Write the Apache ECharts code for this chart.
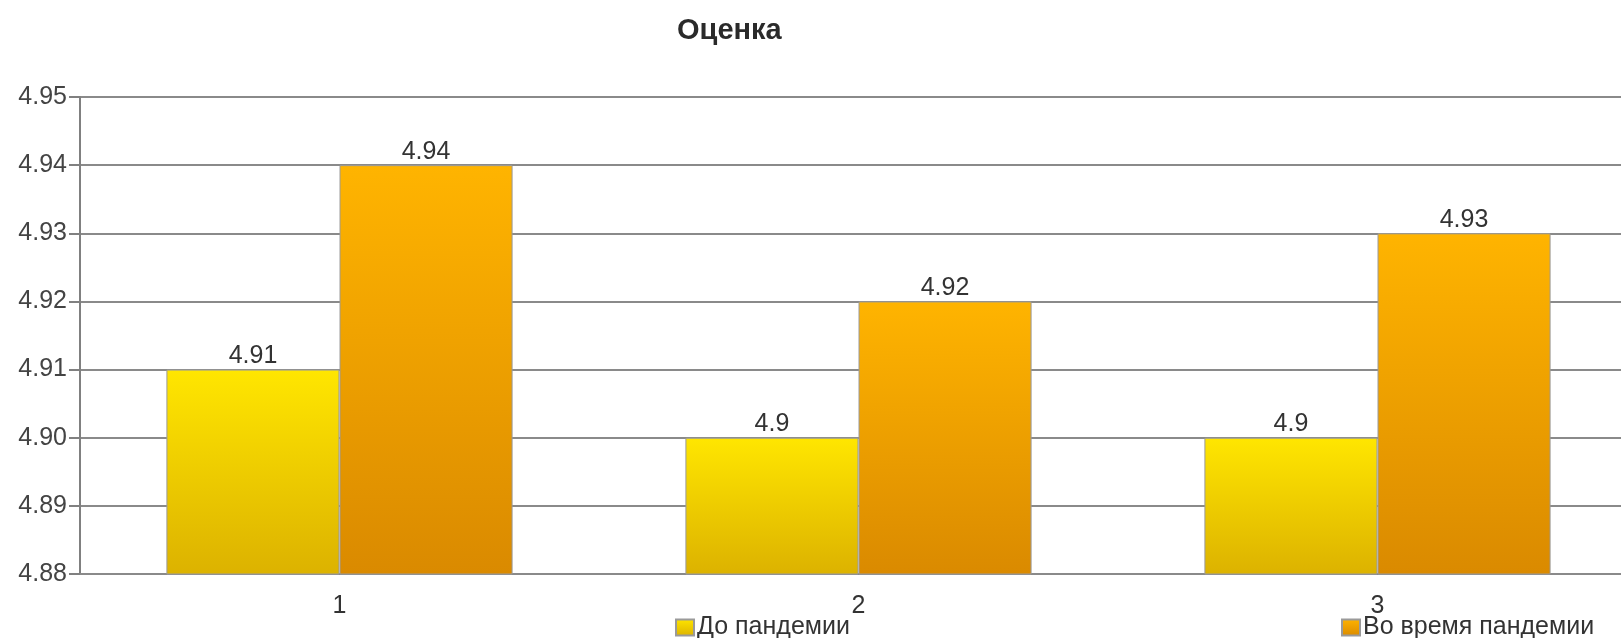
<!DOCTYPE html>
<html>
<head>
<meta charset="utf-8">
<script src="https://cdn.jsdelivr.net/npm/echarts@6/dist/echarts.min.js"></script>
<style>
  html, body { margin: 0; padding: 0; background: #fff; }
  #bar { width: 1621px; height: 638px; }
</style>
</head>
<body>
<div id="bar"></div>
<script>
// данные графика
var categories = ['1', '2', '3'];
var seriesNames = ['До пандемии', 'Во время пандемии'];
var beforeData = [4.91, 4.9, 4.9];
var duringData = [4.94, 4.92, 4.93];
var yMin = 4.88, yMax = 4.95, yStep = 0.01;

var font = 'Liberation Sans, Arial, sans-serif';

function grad(top, bottom) {
    return new echarts.graphic.LinearGradient(0, 0, 0, 1, [
        { offset: 0, color: top },
        { offset: 1, color: bottom }
    ]);
}

var legendStyle = { fontFamily: font, fontSize: 25, color: '#333', padding: [0, 0, 0, -2] };

var myChart = echarts.init(document.getElementById('bar'));
var option = {
    animation: false,
    title: {
        text: 'Оценка',
        left: 672,
        top: 11,
        textStyle: { fontFamily: font, fontSize: 29, fontWeight: 'bold', color: '#2a2a2a' }
    },
    legend: [
        {
            data: [seriesNames[0]],
            left: 675, top: 615, padding: 0,
            itemWidth: 18, itemHeight: 16, itemGap: 4,
            icon: 'rect',
            textStyle: legendStyle
        },
        {
            data: [seriesNames[1]],
            left: 1341, top: 615, padding: 0,
            itemWidth: 18, itemHeight: 16, itemGap: 4,
            icon: 'rect',
            textStyle: legendStyle
        }
    ],
    grid: {
        left: 80,
        right: -16,
        top: 97,
        bottom: 64,
        outerBoundsMode: 'none',
        containLabel: false
    },
    xAxis: {
        type: 'category',
        data: categories,
        axisTick: { show: false },
        axisLine: { lineStyle: { color: '#8a8a8a', width: 2 } },
        axisLabel: { margin: 20, fontFamily: font, fontSize: 25, color: '#333' }
    },
    yAxis: {
        type: 'value',
        min: yMin,
        max: yMax,
        interval: yStep,
        axisLine: { show: true, lineStyle: { color: '#808080', width: 2 } },
        axisTick: { show: true, length: 11, lineStyle: { color: '#808080', width: 2 } },
        axisLabel: {
            margin: 13,
            fontFamily: font, fontSize: 25, color: '#444',
            formatter: function (v) { return v.toFixed(2); }
        },
        splitLine: { lineStyle: { color: '#8a8a8a', width: 2 } }
    },
    series: [
        {
            name: seriesNames[0],
            type: 'bar',
            data: beforeData,
            barGap: '0%',
            barCategoryGap: '33.3%',
            itemStyle: {
                color: grad('#ffe600', '#dcb200'),
                borderColor: '#9a9a9a',
                borderWidth: 1
            },
            label: {
                show: true, position: 'top', distance: 1,
                fontFamily: font, fontSize: 25, color: '#333'
            }
        },
        {
            name: seriesNames[1],
            type: 'bar',
            data: duringData,
            itemStyle: {
                color: grad('#ffb400', '#da8a00'),
                borderColor: '#9a9a9a',
                borderWidth: 1
            },
            label: {
                show: true, position: 'top', distance: 1,
                fontFamily: font, fontSize: 25, color: '#333'
            }
        }
    ]
};
myChart.setOption(option);
</script>
</body>
</html>
